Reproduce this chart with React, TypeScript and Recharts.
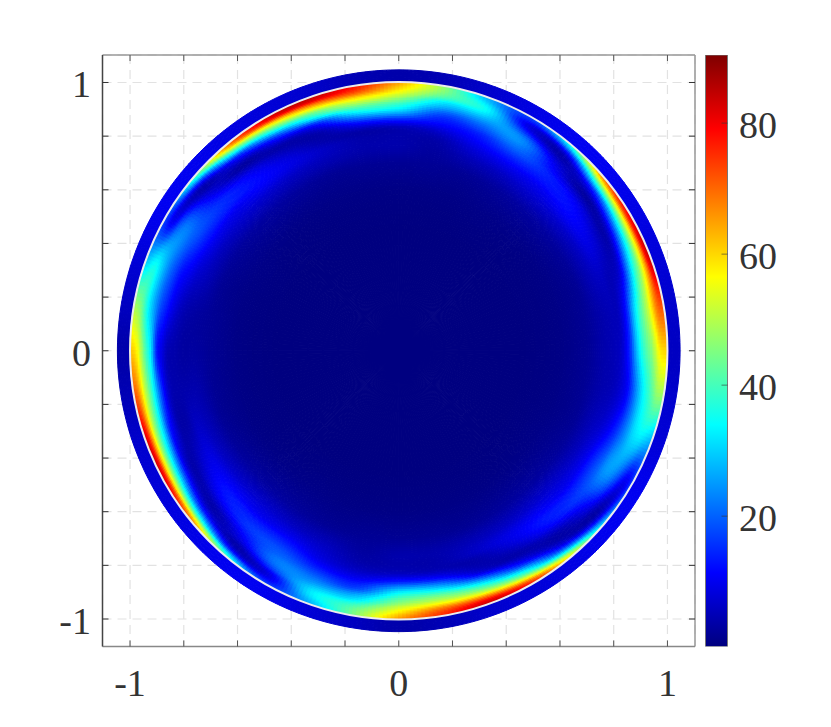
import { ScatterChart, Scatter, XAxis, YAxis, CartesianGrid, ReferenceLine, ReferenceDot, BarChart, Bar } from "recharts";

const CHART_W = 831;
const CHART_H = 727;
const PLOT = { left: 102.5, right: 695, top: 55, bottom: 646.5 };
const LIMIT = 1.1025;
const PPU = (PLOT.right - PLOT.left) / (2 * LIMIT);

const rings = [1, 0.985, 0.97, 0.955, 0.94, 0.92, 0.9, 0.88, 0.86, 0.83, 0.8, 0.76, 0.7, 0.6, 0.45, 0];
const angles = Array.from({ length: 36 }, (_, i) => i * 10);
const OUTER_R = 1.047;

// one row per angle (0, 10, ... 350 deg), one column per ring
const field = [
  [60, 60, 58, 52, 46, 41, 35, 26, 15, 7, 5, 4, 2, 0.7, 0.2, 0.2],
  [72, 72, 68, 60, 52, 44, 36, 26, 14, 6, 5, 4, 2, 0.7, 0.2, 0.2],
  [84, 80, 66, 54, 44, 34, 22, 11, 6, 5, 6, 5, 2, 0.7, 0.2, 0.2],
  [82, 76, 60, 46, 34, 20, 9, 4, 5, 8, 9, 6, 2.5, 0.7, 0.2, 0.2],
  [70, 60, 44, 30, 16, 7, 3, 6, 10, 12, 11, 7, 3, 0.8, 0.2, 0.2],
  [38, 28, 14, 6, 4, 7, 10, 12, 14, 13, 10, 7, 3, 0.9, 0.2, 0.2],
  [18, 14, 9, 10, 15, 22, 24, 22, 19, 14, 10, 6, 2.5, 0.9, 0.2, 0.2],
  [26, 28, 32, 34, 32, 27, 22, 18, 14, 11, 8, 5, 2, 0.7, 0.2, 0.2],
  [46, 46, 44, 40, 33, 27, 20, 15, 12, 7, 4, 3, 2, 0.7, 0.2, 0.2],
  [65, 62, 58, 53, 47, 39, 33, 24, 14, 5, 4, 4, 2, 0.7, 0.2, 0.2],
  [78, 76, 70, 60, 52, 42, 33, 22, 12, 4, 4, 4, 2, 0.7, 0.2, 0.2],
  [84, 82, 68, 56, 44, 33, 16, 8, 4, 4, 6, 5, 2, 0.7, 0.2, 0.2],
  [82, 78, 60, 46, 34, 18, 9, 4, 5, 8, 9, 6, 2.5, 0.7, 0.2, 0.2],
  [70, 62, 45, 30, 15, 7, 3, 6, 10, 12, 11, 7, 3, 0.8, 0.2, 0.2],
  [40, 30, 15, 6, 4, 7, 10, 13, 15, 14, 10, 7, 3, 0.9, 0.2, 0.2],
  [18, 14, 10, 12, 18, 22, 22, 20, 18, 14, 10, 6, 2.5, 0.9, 0.2, 0.2],
  [28, 30, 33, 34, 31, 26, 21, 17, 13, 10, 7, 5, 2, 0.7, 0.2, 0.2],
  [48, 47, 44, 38, 32, 25, 18, 14, 10, 6, 4, 3, 2, 0.7, 0.2, 0.2],
  [62, 60, 56, 48, 40, 31, 14, 9, 5, 4, 3, 3, 2, 0.7, 0.2, 0.2],
  [72, 70, 62, 52, 44, 33, 20, 10, 5, 4, 4, 4, 2, 0.7, 0.2, 0.2],
  [84, 78, 64, 50, 40, 28, 14, 8, 4, 4, 6, 5, 2, 0.7, 0.2, 0.2],
  [82, 76, 58, 44, 32, 18, 8, 4, 5, 8, 9, 6, 2.5, 0.7, 0.2, 0.2],
  [68, 58, 40, 26, 14, 6, 4, 7, 11, 13, 11, 7, 3, 0.8, 0.2, 0.2],
  [40, 30, 14, 6, 4, 8, 11, 14, 16, 14, 10, 7, 3, 0.9, 0.2, 0.2],
  [18, 13, 9, 10, 16, 21, 22, 20, 18, 14, 10, 6, 2.5, 0.9, 0.2, 0.2],
  [26, 28, 31, 32, 30, 25, 21, 17, 13, 9, 7, 5, 2, 0.7, 0.2, 0.2],
  [44, 44, 42, 38, 32, 26, 18, 14, 10, 6, 4, 3, 2, 0.7, 0.2, 0.2],
  [66, 62, 57, 52, 46, 40, 33, 24, 14, 6, 4, 4, 2, 0.7, 0.2, 0.2],
  [76, 74, 68, 58, 50, 42, 32, 22, 12, 5, 4, 4, 2, 0.7, 0.2, 0.2],
  [84, 80, 68, 54, 44, 33, 20, 9, 5, 4, 6, 5, 2, 0.7, 0.2, 0.2],
  [78, 70, 54, 40, 30, 16, 8, 4, 5, 8, 9, 6, 2.5, 0.7, 0.2, 0.2],
  [58, 48, 30, 16, 8, 4, 4, 7, 11, 13, 11, 7, 3, 0.8, 0.2, 0.2],
  [32, 22, 10, 4, 4, 8, 11, 14, 16, 14, 10, 7, 3, 0.9, 0.2, 0.2],
  [18, 12, 10, 13, 18, 23, 25, 24, 20, 15, 10, 6, 2.5, 0.9, 0.2, 0.2],
  [26, 28, 30, 32, 32, 30, 25, 20, 15, 10, 7, 5, 2, 0.7, 0.2, 0.2],
  [46, 47, 46, 42, 38, 33, 26, 18, 11, 7, 5, 4, 2, 0.7, 0.2, 0.2],
];

// the band outside the white circle
const outerBand = [6, 7, 8, 9, 10, 10, 9, 7, 5, 4, 5, 7, 8, 9, 10, 10, 8, 6, 4, 5, 7, 8, 9, 10, 10, 8, 6, 4, 5, 7, 8, 9, 10, 10, 8, 7];

const axisTicks = [-1, -0.8, -0.6, -0.4, -0.2, 0, 0.2, 0.4, 0.6, 0.8, 1];
const labelledTicks = [-1, 0, 1];
const colorTicks = [20, 40, 60, 80];
const colorDomain = [0.1, 90.4];
const colorRange = [{ name: "c", range: colorDomain }];

const jetStops: [number, number[]][] = [
  [0, [0, 0, 127]],
  [0.125, [0, 0, 255]],
  [0.375, [0, 255, 255]],
  [0.625, [255, 255, 0]],
  [0.875, [255, 0, 0]],
  [1, [127, 0, 0]],
];

function jet(value: number) {
  const t = Math.min(1, Math.max(0, (value - colorDomain[0]) / (colorDomain[1] - colorDomain[0])));
  for (let i = 1; i < jetStops.length; i++) {
    const [t1, c1] = jetStops[i];
    const [t0, c0] = jetStops[i - 1];
    if (t <= t1) {
      const k = (t - t0) / (t1 - t0);
      return `rgb(${c0.map((c, n) => Math.round(c + (c1[n] - c) * k)).join(",")})`;
    }
  }
  return "rgb(127,0,0)";
}

const polar = (r: number, deg: number) => ({
  x: r * Math.cos((deg * Math.PI) / 180),
  y: r * Math.sin((deg * Math.PI) / 180),
});

// smooth shading between the read samples, like shading interp
const cubic = (a: number, b: number, c: number, d: number, t: number) =>
  b + 0.5 * t * (c - a + t * (2 * a - 5 * b + 4 * c - d + t * (3 * (b - c) + d - a)));

const N = angles.length;
const rowAt = (a: number, i: number) => field[(a + N) % N][Math.min(rings.length - 1, Math.max(0, i))];

function shade(a: number, i: number, u: number, w: number) {
  const across = [-1, 0, 1, 2].map((k) =>
    cubic(rowAt(a - 1, i + k), rowAt(a, i + k), rowAt(a + 1, i + k), rowAt(a + 2, i + k), w)
  );
  return cubic(across[0], across[1], across[2], across[3], u);
}

function bandShade(a: number, w: number) {
  const at = (k: number) => outerBand[(a + k + N) % N];
  return cubic(at(-1), at(0), at(1), at(2), w);
}

const fieldPoints = angles.flatMap((deg, a) =>
  rings.slice(0, -1).map((r, i) => ({ ...polar(r, deg), r, deg, a, i, value: field[a][i] }))
);
const bandPoints = angles.map((deg, a) => ({ ...polar(1, deg), r: 1, deg, a, value: outerBand[a] }));

function shadeCell(cx: number, cy: number, p: any, r0: number, r1: number, valueAt: (u: number, w: number) => number) {
  const ox = cx - p.x * PPU;
  const oy = cy + p.y * PPU;
  const nr = Math.min(8, Math.max(1, Math.ceil((Math.abs(r0 - r1) * PPU) / 2)));
  const na = Math.max(1, Math.min(12, Math.ceil((r0 * PPU * 0.1745) / 4)));
  const out = [];
  for (let m = 0; m < nr; m++) {
    for (let n = 0; n < na; n++) {
      const ra = r0 + ((r1 - r0) * m) / nr;
      const rb = r0 + ((r1 - r0) * (m + 1)) / nr;
      const a0 = p.deg + (10 * n) / na;
      const a1 = p.deg + (10 * (n + 1)) / na;
      const pts = [polar(ra, a0), polar(ra, a1), polar(rb, a1), polar(rb, a0)]
        .map((q) => `${(ox + q.x * PPU).toFixed(2)},${(oy - q.y * PPU).toFixed(2)}`)
        .join(" ");
      const c = jet(valueAt((m + 0.5) / nr, (n + 0.5) / na));
      out.push(<polygon key={`${m}-${n}`} points={pts} fill={c} stroke={c} strokeWidth={1} />);
    }
  }
  return <g>{out}</g>;
}

const FieldCell = (props: any) => {
  const p = props.payload;
  return shadeCell(props.cx, props.cy, p, p.r, rings[p.i + 1], (u, w) => shade(p.a, p.i, u, w));
};

const BandCell = (props: any) => {
  const p = props.payload;
  return shadeCell(props.cx, props.cy, p, OUTER_R, 1, (_, w) => bandShade(p.a, w));
};

const fontFamily = "Liberation Serif";
const labelStyle = { fontFamily, fontSize: 38, fill: "#333" };

const XTick = ({ x, payload }: any) => (
  <g>
    <line x1={x} x2={x} y1={PLOT.bottom} y2={PLOT.bottom - 6} stroke="#555" />
    <line x1={x} x2={x} y1={PLOT.top} y2={PLOT.top + 6} stroke="#555" />
    {labelledTicks.includes(payload.value) && (
      <text x={x} y={696} textAnchor="middle" {...labelStyle}>
        {payload.value}
      </text>
    )}
  </g>
);

const YTick = ({ y, payload }: any) => (
  <g>
    <line x1={PLOT.left} x2={PLOT.left + 6} y1={y} y2={y} stroke="#333" />
    <line x1={PLOT.right} x2={PLOT.right - 6} y1={y} y2={y} stroke="#333" />
    {labelledTicks.includes(payload.value) && (
      <text x={91} y={y + 15} textAnchor="end" {...labelStyle}>
        {payload.value}
      </text>
    )}
  </g>
);

const ColorTick = ({ y, payload }: any) => (
  <g>
    <line x1={721.5} x2={727.5} y1={y} y2={y} stroke="#333" strokeOpacity={0.6} />
    <text x={739} y={y + 15} {...labelStyle}>
      {payload.value}
    </text>
  </g>
);

export default function App() {
  return (
    <div style={{ position: "absolute", left: 0, top: 0, width: CHART_W, height: CHART_H, background: "#fff" }}>
      <div style={{ position: "absolute", left: 0, top: 0 }}>
        <ScatterChart
          width={CHART_W}
          height={CHART_H}
          margin={{ left: PLOT.left - 1, right: CHART_W - PLOT.right, top: PLOT.top, bottom: CHART_H - PLOT.bottom - 1 }}
        >
          <CartesianGrid stroke="#e2e2e2" strokeWidth={1.2} strokeDasharray="9 6" />
          <XAxis
            type="number"
            dataKey="x"
            domain={[-LIMIT, LIMIT]}
            allowDataOverflow
            ticks={axisTicks}
            height={1}
            interval={0}
            tick={<XTick />}
            tickLine={false}
            axisLine={{ stroke: "#888", strokeWidth: 1.5 }}
          />
          <YAxis
            type="number"
            dataKey="y"
            domain={[-LIMIT, LIMIT]}
            allowDataOverflow
            ticks={axisTicks}
            width={1}
            interval={0}
            tick={<YTick />}
            tickLine={false}
            axisLine={{ stroke: "#444", strokeWidth: 1.5 }}
          />
          <ReferenceLine y={LIMIT} stroke="#999" strokeWidth={1.5} />
          <ReferenceLine x={LIMIT} stroke="#999" strokeWidth={1.5} />
          <Scatter data={bandPoints} shape={BandCell} isAnimationActive={false} />
          <Scatter data={fieldPoints} shape={FieldCell} isAnimationActive={false} />
          <ReferenceDot x={0} y={0} r={PPU} fill="none" stroke="#ececec" strokeWidth={2} />
        </ScatterChart>
      </div>
      <div style={{ position: "absolute", left: 0, top: 0 }}>
        <BarChart
          width={CHART_W}
          height={CHART_H}
          data={colorRange}
          barCategoryGap={0}
          margin={{ left: 705.5, right: CHART_W - 727.5 - 1, top: PLOT.top, bottom: CHART_H - PLOT.bottom }}
        >
          <defs>
            <linearGradient id="jetGradient" x1="0" y1="1" x2="0" y2="0">
              {jetStops.map(([t, c]) => (
                <stop key={t} offset={t} stopColor={`rgb(${c.join(",")})`} />
              ))}
            </linearGradient>
          </defs>
          <XAxis dataKey="name" hide />
          <YAxis
            type="number"
            orientation="right"
            domain={colorDomain}
            allowDataOverflow
            ticks={colorTicks}
            width={1}
            tick={<ColorTick />}
            tickLine={false}
            axisLine={false}
          />
          <Bar dataKey="range" fill="url(#jetGradient)" stroke="#777" isAnimationActive={false} />
        </BarChart>
      </div>
    </div>
  );
}
